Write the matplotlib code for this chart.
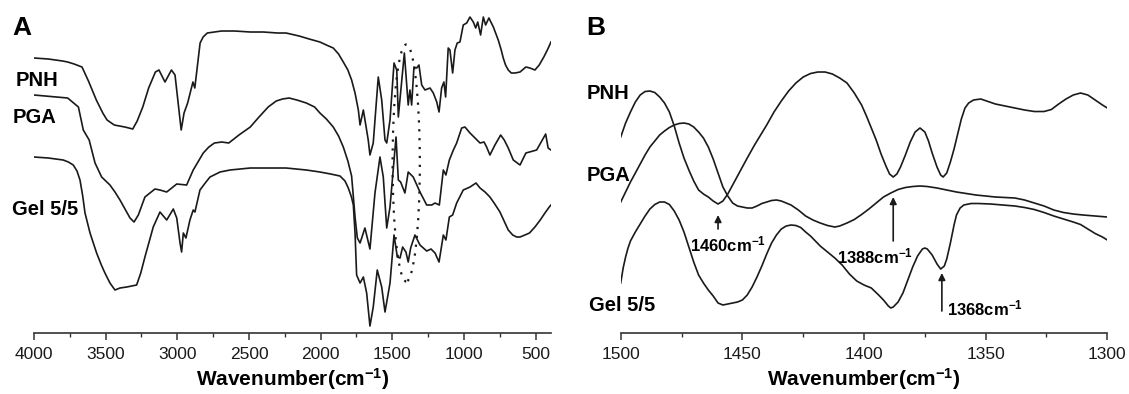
import matplotlib
matplotlib.use('Agg')
import matplotlib.pyplot as plt
from matplotlib.patches import Ellipse

plt.rcParams['font.family'] = ['Liberation Sans', 'DejaVu Sans']
plt.rcParams['mathtext.fontset'] = 'custom'
plt.rcParams['mathtext.rm'] = 'Liberation Sans'
plt.rcParams['mathtext.bf'] = 'Liberation Sans:bold'
plt.rcParams['mathtext.default'] = 'bf'

# ---- panel A: full FTIR spectra (transmittance, arbitrary units, offset) ----
pnh_a_wn = [4000, 3900, 3800, 3765, 3720, 3665, 3620, 3565, 3520, 3490, 3440, 3366, 3311, 3280,
            3241, 3200, 3153, 3128, 3086, 3041, 3016, 2973, 2953, 2928, 2891, 2878, 2841, 2820,
            2791, 2691, 2600, 2491, 2400, 2300, 2241, 2150, 2080, 2005, 1960, 1912, 1875, 1842,
            1810, 1784, 1760, 1737, 1725, 1702, 1668, 1656, 1633, 1598, 1574, 1551, 1539, 1516,
            1488, 1469, 1458, 1416, 1389, 1377, 1365, 1349, 1330, 1314, 1295, 1272, 1237, 1214,
            1190, 1174, 1156, 1140, 1128, 1110, 1098, 1079, 1063, 1047, 1028, 1005, 981, 958,
            935, 918, 904, 884, 865, 849, 826, 795, 761, 740, 726, 710, 691, 670, 644, 609, 568,
            540, 505, 475, 443, 415, 393]
pnh_a_t = [275, 274, 272, 271, 269, 266, 252, 233, 220, 213, 208, 206, 204, 212,
           226, 245, 261, 263, 251, 263, 258, 203, 220, 230, 251, 245, 290, 296,
           300, 302, 302, 301, 301, 300, 300, 297, 294, 291, 288, 285, 279, 271,
           263, 253, 240, 223, 208, 223, 193, 178, 190, 256, 233, 193, 190, 213,
           270, 263, 216, 280, 228, 243, 228, 266, 265, 268, 248, 243, 245, 240,
           231, 221, 245, 251, 236, 285, 283, 260, 283, 290, 291, 308, 310, 316,
           311, 305, 311, 298, 316, 308, 315, 306, 293, 283, 275, 268, 263, 260, 260, 261, 266,
           265, 263, 268, 276, 284, 291]

pga_a_wn = [4000, 3765, 3690, 3656, 3615, 3574, 3528, 3470, 3435, 3400, 3365, 3330, 3302, 3272,
            3226, 3156, 3121, 3074, 3004, 2935, 2889, 2819, 2780, 2741, 2690, 2641, 2570, 2491,
            2430, 2366, 2310, 2266, 2220, 2166, 2100, 2042, 2005, 1960, 1912, 1875, 1842, 1810,
            1784, 1760, 1744, 1725, 1691, 1656, 1621, 1586, 1563, 1539, 1516, 1474, 1458, 1442,
            1412, 1389, 1354, 1307, 1260, 1225, 1202, 1172, 1144, 1126, 1102, 1074, 1051, 1016,
            993, 958, 923, 888, 860, 842, 819, 784, 744, 719, 691, 656, 609, 568, 493, 430, 413,
            393]
pga_a_t = [238, 235, 226, 203, 193, 170, 156, 148, 141, 133, 124, 115, 111, 118,
           136, 144, 143, 141, 149, 148, 163, 180, 186, 190, 191, 190, 198, 206,
           216, 226, 232, 234, 235, 233, 230, 226, 220, 214, 206, 197, 186, 172,
           157, 116, 95, 90, 105, 84, 140, 176, 156, 105, 126, 196, 153, 151,
           140, 161, 156, 141, 128, 128, 130, 128, 163, 158, 173, 183, 190, 205,
           206, 200, 195, 190, 191, 186, 178, 188, 198, 193, 185, 173, 168, 180, 183, 199, 185,
           183]

gel_a_wn = [4000, 3900, 3796, 3760, 3726, 3700, 3679, 3660, 3644, 3609, 3563, 3530, 3505, 3470,
            3435, 3400, 3353, 3284, 3255, 3226, 3195, 3168, 3121, 3074, 3028, 3004, 2981, 2970,
            2958, 2940, 2912, 2889, 2877, 2842, 2800, 2772, 2702, 2632, 2491, 2241, 2100, 2005,
            1930, 1865, 1830, 1807, 1785, 1772, 1760, 1749, 1725, 1702, 1679, 1656, 1633, 1605,
            1574, 1551, 1516, 1488, 1465, 1446, 1428, 1405, 1389, 1372, 1342, 1307, 1260, 1230,
            1202, 1174, 1144, 1126, 1102, 1079, 1051, 1005, 958, 916, 888, 853, 819, 785, 749,
            720, 691, 660, 632, 609, 575, 543, 505, 468, 435, 405, 393]
gel_a_t = [176, 175, 173, 171, 168, 162, 153, 137, 120, 100, 80, 68, 60, 50,
           43, 45, 46, 48, 60, 76, 92, 106, 121, 113, 124, 115, 90, 81,
           100, 95, 113, 123, 121, 143, 151, 156, 161, 163, 165, 165, 163, 161,
           159, 157, 152, 145, 136, 128, 100, 58, 50, 56, 40, 7, 26, 63,
           46, 21, 50, 98, 76, 75, 86, 81, 71, 85, 98, 88, 82, 84,
           80, 71, 98, 93, 116, 118, 130, 143, 146, 150, 145, 141, 136, 129, 121,
           112, 103, 98, 96, 96, 98, 100, 106, 113, 120, 126, 128]

# ---- panel B: 1500-1300 cm-1 detail ----
pnh_b_wn = [1500, 1498, 1496, 1494, 1492, 1490, 1488, 1486, 1484, 1482, 1480, 1478, 1476, 1474,
            1472, 1470, 1468, 1466, 1464, 1462, 1460, 1458, 1456, 1454, 1452, 1450, 1448, 1445,
            1442, 1440, 1437, 1434, 1431, 1428, 1425, 1422, 1419, 1416, 1413, 1410, 1407, 1404,
            1401, 1399, 1397, 1395, 1393, 1391, 1389.5, 1388, 1386.5, 1385, 1383, 1381, 1379,
            1377, 1375, 1373.5, 1372, 1370, 1368.5, 1367.5, 1366, 1364.5, 1363, 1361.5, 1360,
            1358.5, 1357, 1355, 1352, 1349, 1346, 1342, 1338, 1334, 1330, 1326, 1323, 1320,
            1317, 1314, 1311, 1308, 1305, 1302, 1300]
pnh_b_t = [196, 210, 221, 231, 238, 241.5, 242, 240.5, 236, 230, 221, 207, 190, 175,
           163, 152, 143, 139, 136, 132, 129, 132, 139, 148, 157, 166, 175, 188,
           200, 208, 221, 232, 242, 250, 256, 259.5, 261, 261, 259, 255, 250, 240,
           228, 217, 205, 193, 179, 167, 159, 156, 159, 166, 178, 191, 201,
           205, 201, 192, 180, 166, 158, 156, 160, 171, 184, 199, 214,
           225, 230, 233, 234, 231.5, 229, 227, 225, 223, 221.5, 221.5, 223.5, 229,
           234, 238, 240, 238, 233, 228, 225]

pga_b_wn = [1500, 1498, 1496, 1494, 1492, 1490, 1488, 1486, 1484, 1482, 1480, 1478, 1476, 1474,
            1472, 1470, 1468, 1466, 1464, 1462, 1460, 1458, 1456, 1454, 1452, 1450, 1448, 1446,
            1444, 1442, 1440, 1438, 1436, 1434, 1432, 1430, 1427, 1424, 1421, 1418, 1415, 1412,
            1410, 1407, 1404, 1401, 1398, 1395, 1392, 1389, 1386, 1383, 1380, 1377, 1374, 1370,
            1366, 1362, 1358, 1354, 1350, 1346, 1342, 1338, 1334, 1330, 1326, 1322, 1318, 1314,
            1310, 1305, 1300]
pga_b_t = [131, 141, 151, 160, 169, 178, 186, 192, 198, 202, 205.5, 208, 209.5, 210,
           209, 206, 201, 195, 186, 174, 160, 146, 137, 130, 127, 126, 125, 125,
           127, 129.5, 131, 132.5, 133, 132, 130, 128, 123, 117, 113, 110, 107.5, 106,
           107, 110, 113.5, 118.5, 124, 130, 136, 140, 143.5, 145.5, 146.5, 147, 146.5, 145,
           143, 141, 139.5, 138, 137, 136, 135.5, 135, 133, 130, 127, 123, 120.5, 119,
           118, 117, 116]

gel_b_wn = [1500, 1499, 1498, 1497, 1496, 1494, 1492, 1490, 1488, 1486, 1484, 1482, 1480, 1478,
            1476, 1474, 1472, 1470, 1468, 1466, 1464, 1462, 1460, 1458, 1456, 1454, 1452, 1450,
            1448, 1446, 1444, 1442, 1440, 1438, 1436, 1434, 1432, 1430, 1428, 1426, 1424, 1422,
            1420, 1418, 1415, 1412, 1409, 1406, 1403, 1400, 1397, 1394, 1392, 1390, 1389, 1388,
            1386, 1384, 1382, 1380, 1378, 1376, 1375, 1374, 1372, 1370, 1368.5, 1367, 1366,
            1364.5, 1363, 1362, 1360.5, 1359, 1356, 1353, 1348, 1343, 1338, 1334, 1330, 1326,
            1322, 1318, 1314, 1311, 1308, 1305, 1302, 1300]
gel_b_t = [50, 65, 76, 85, 92, 101, 109, 117, 124, 128.5, 131, 131, 128.5, 122,
           113, 101, 86, 71, 58, 50, 43, 37, 30, 28, 29, 30, 31, 33,
           38, 46, 56, 67, 79, 90, 98, 104, 107, 108, 107.5, 105.5, 101, 97,
           92, 87, 81, 75, 68, 59, 52, 48, 45, 38, 33, 27, 25, 26,
           31, 40, 53, 66, 77, 84, 85, 84, 78, 69, 64, 67, 74,
           90, 108, 118, 125, 128, 129.5, 129.5, 129, 128, 127, 125.5, 123.5, 120.5,
           117, 114, 111, 108.5, 104, 99.5, 96, 93]

peak_wn = [1460, 1388, 1368]
peak_labels = ['1460cm$^{-1}$', '1388cm$^{-1}$', '1368cm$^{-1}$']

line_kw = dict(color='#1a1a1a', lw=1.2)

fig = plt.figure(figsize=(11.29, 3.94), dpi=100)
axA = fig.add_axes([0.0301, 0.1548, 0.4583, 0.8198])
axB = fig.add_axes([0.5498, 0.1548, 0.4310, 0.8198])

for ax in (axA, axB):
    for s in ('left', 'right', 'top'):
        ax.spines[s].set_visible(False)
    ax.spines['bottom'].set_linewidth(1.2)
    ax.spines['bottom'].set_color('#333333')
    ax.set_yticks([])
    ax.set_ylim(0, 323)
    ax.tick_params(axis='x', which='major', length=5, width=1.1, pad=5,
                   labelsize=12.5, colors='#333333', labelcolor='#1a1a1a')
    ax.tick_params(axis='x', which='minor', length=3, width=1.0, colors='#333333')
    ax.set_xlabel('Wavenumber(cm$^{-1}$)', fontsize=15, fontweight='bold', labelpad=3)

# panel A
axA.plot(pnh_a_wn, pnh_a_t, **line_kw)
axA.plot(pga_a_wn, pga_a_t, **line_kw)
axA.plot(gel_a_wn, gel_a_t, **line_kw)
axA.set_xlim(4000, 390)
axA.set_xticks([4000, 3500, 3000, 2500, 2000, 1500, 1000, 500])
axA.set_xticks([3750, 3250, 2750, 2250, 1750, 1250, 750], minor=True)
axA.add_patch(Ellipse((1403, 170), 190, 237, fill=False, lw=1.6, color='#1a1a1a',
                      linestyle=(0, (1, 3))))
axA.text(4126, 253, 'PNH', fontsize=14.5, fontweight='bold', va='center', clip_on=False)
axA.text(4147, 216, 'PGA', fontsize=14.5, fontweight='bold', va='center', clip_on=False)
axA.text(4153, 124, 'Gel 5/5', fontsize=14.5, fontweight='bold', va='center', clip_on=False)
axA.text(4150, 305, 'A', fontsize=19, fontweight='bold', va='center', clip_on=False)

# panel B
axB.plot(pnh_b_wn, pnh_b_t, **line_kw)
axB.plot(pga_b_wn, pga_b_t, **line_kw)
axB.plot(gel_b_wn, gel_b_t, **line_kw)
axB.set_xlim(1500, 1300)
axB.set_xticks([1500, 1450, 1400, 1350, 1300])
axB.set_xticks([1475, 1425, 1375, 1325], minor=True)
axB.text(1514, 240, 'PNH', fontsize=14.5, fontweight='bold', va='center', clip_on=False)
axB.text(1514, 158, 'PGA', fontsize=14.5, fontweight='bold', va='center', clip_on=False)
axB.text(1513, 28, 'Gel 5/5', fontsize=14.5, fontweight='bold', va='center', clip_on=False)
axB.text(1514, 305, 'B', fontsize=19, fontweight='bold', va='center', clip_on=False)

arrow = dict(arrowstyle='-|>', lw=1.2, color='#1a1a1a', mutation_scale=10, shrinkA=0, shrinkB=0)
axB.annotate('', xy=(peak_wn[0], 118), xytext=(peak_wn[0], 104), arrowprops=arrow)
axB.text(1456, 89, peak_labels[0], fontsize=12, fontweight='bold', ha='center', va='center')
axB.annotate('', xy=(peak_wn[1], 136), xytext=(peak_wn[1], 92), arrowprops=arrow)
axB.text(1395.5, 77, peak_labels[1], fontsize=12, fontweight='bold', ha='center', va='center')
axB.annotate('', xy=(peak_wn[2], 60), xytext=(peak_wn[2], 22), arrowprops=arrow)
axB.text(1366, 25, peak_labels[2], fontsize=12, fontweight='bold', ha='left', va='center')

fig.savefig('out.png', dpi=100)
